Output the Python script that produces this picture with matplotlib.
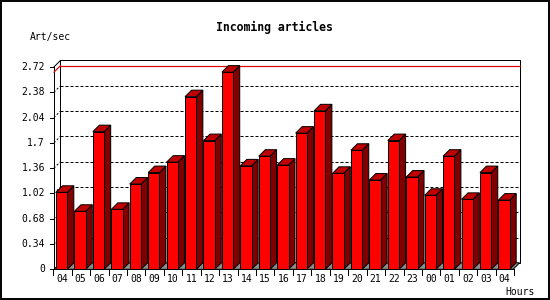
import matplotlib
matplotlib.use("Agg")
import matplotlib.pyplot as plt
from matplotlib.patches import Polygon, Rectangle

# ---- data ----
hours = ["04", "05", "06", "07", "08", "09", "10", "11", "12", "13", "14", "15",
         "16", "17", "18", "19", "20", "21", "22", "23", "00", "01", "02", "03", "04"]
values = [1.035, 0.78, 1.85, 0.806, 1.146, 1.30, 1.44, 2.32, 1.73, 2.65, 1.39, 1.52,
          1.40, 1.83, 2.13, 1.29, 1.60, 1.20, 1.73, 1.24, 0.995, 1.52, 0.94, 1.30, 0.93]
yticks = [0, 0.34, 0.68, 1.02, 1.36, 1.7, 2.04, 2.38, 2.72]
ytick_labels = ["0", "0.34", "0.68", "1.02", "1.36", "1.7", "2.04", "2.38", "2.72"]
title = "Incoming articles"
ylabel = "Art/sec"
xlabel = "Hours"

# ---- geometry (data units) ----
W = 0.613          # front face width
DX = 0.353         # depth offset in x
DY = 0.0874        # depth offset in y
XF0, XF1 = -0.11, 24.8   # front floor extent
YMAX = 2.72
LW = 0.72

fig = plt.figure(figsize=(5.5, 3.0), dpi=100)
ax = fig.add_axes([0, 0, 1, 1])
ax.set_xlim(-3.039, 26.80)
ax.set_ylim(-0.4126, 3.6196)
ax.axis("off")

# outer border
fig.patches.append(Rectangle((0.001, 0.002), 0.997, 0.995, transform=fig.transFigure,
                             fill=False, edgecolor="black", linewidth=1.4))

# back wall
ax.add_patch(Polygon([(XF0 + DX, DY), (XF1 + DX, DY), (XF1 + DX, YMAX + DY), (XF0 + DX, YMAX + DY)],
                     closed=True, facecolor="white", edgecolor="black", linewidth=LW, zorder=1))
# left wall lines
ax.plot([XF0, XF0], [0, YMAX], color="black", lw=LW, zorder=2)
ax.plot([XF0, XF0 + DX], [YMAX, YMAX + DY], color="black", lw=LW, zorder=2)

# gridlines
for t in yticks[1:-1]:
    ax.plot([XF0 + DX, XF1 + DX], [t + DY, t + DY], color="black", lw=LW,
            linestyle=(0, (3, 2)), zorder=2)
    ax.plot([XF0, XF0 + DX], [t, t + DY], color="black", lw=LW,
            linestyle=(0, (2, 2)), zorder=2)

# max line
vmax = max(values)
ax.plot([XF0 + DX, XF1 + DX], [vmax + DY, vmax + DY], color="#e00000", lw=LW * 1.2, zorder=2)
ax.plot([XF0, XF0 + DX], [vmax, vmax + DY], color="#e00000", lw=LW * 1.2, zorder=2)

# floor
ax.add_patch(Polygon([(XF0, 0), (XF1, 0), (XF1 + DX, DY), (XF0 + DX, DY)], closed=True,
                     facecolor="#8c8c8c", edgecolor="black", linewidth=LW, zorder=3))

# bars
for i, v in enumerate(values):
    x = i
    z = 4 + i * 0.01
    ax.add_patch(Polygon([(x + W, 0), (x + W + DX, DY), (x + W + DX, v + DY), (x + W, v)],
                         closed=True, facecolor="#800000", edgecolor="black", linewidth=LW, zorder=z))
    ax.add_patch(Polygon([(x, v), (x + W, v), (x + W + DX, v + DY), (x + DX, v + DY)],
                         closed=True, facecolor="#c00000", edgecolor="black", linewidth=LW, zorder=z))
    ax.add_patch(Rectangle((x, 0), W, v, facecolor="#ff0000", edgecolor="black",
                           linewidth=LW, zorder=z + 0.005))

# front baseline
ax.plot([XF0, XF1], [0, 0], color="black", lw=LW, zorder=6)

# y ticks + labels
for t, lab in zip(yticks, ytick_labels):
    ax.plot([XF0 - 0.22, XF0], [t, t], color="black", lw=LW, zorder=6)
    ax.text(-0.6, t, lab, ha="right", va="center", fontsize=7,
            family="DejaVu Sans Mono", zorder=7)

# x ticks
for k in range(len(hours) + 1):
    xt = -0.147 + k
    ax.plot([xt, xt], [0, -0.07], color="black", lw=LW, zorder=6)
for i, h in enumerate(hours):
    ax.text(i + 0.34, -0.135, h, ha="center", va="center", fontsize=7,
            family="DejaVu Sans Mono", zorder=7)

ax.text(24.36, -0.31, xlabel, ha="left", va="center", fontsize=7,
        family="DejaVu Sans Mono")
ax.text(-1.41, 3.126, ylabel, ha="left", va="center", fontsize=7,
        family="DejaVu Sans Mono")
ax.text(11.83, 3.253, title, ha="center", va="center", fontsize=8.3,
        family="DejaVu Sans Mono", fontweight="bold")

fig.savefig("out.png", dpi=100)
